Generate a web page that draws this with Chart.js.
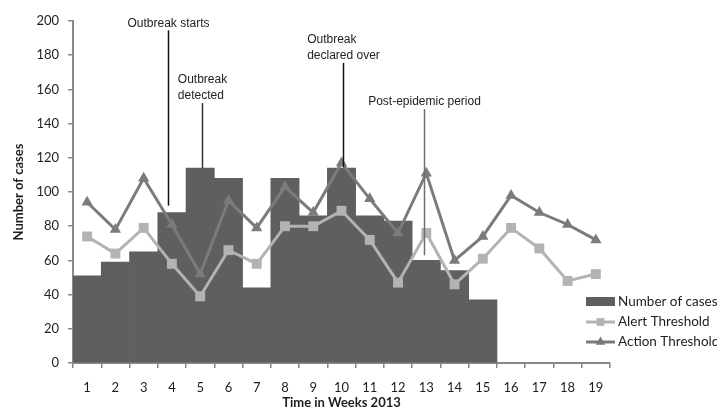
<!DOCTYPE html>
<html>
<head>
<meta charset="utf-8">
<title>Weekly cases and epidemic thresholds, 2013</title>
<script src="https://cdn.jsdelivr.net/npm/chart.js@4/dist/chart.umd.min.js"></script>
<style>
  html, body { margin: 0; padding: 0; background: #ffffff; }
  canvas { display: block; }
</style>
</head>
<body>
<canvas id="chart" width="717" height="407"></canvas>
<script>
// Week numbers on the x axis
const weeks = ['1','2','3','4','5','6','7','8','9','10','11','12','13','14','15','16','17','18','19'];

// Reported cases per week (no reports yet from week 16 on)
const cases = [51, 59, 65, 88, 114, 108, 44, 108, 86, 114, 86, 83, 60, 54, 37, null, null, null, null];

// Threshold series
const alertThreshold  = [74, 64, 79, 58, 39, 66, 58, 80, 80, 89, 72, 47, 76, 46, 61, 79, 67, 48, 52];
const actionThreshold = [94, 78, 108, 81, 52, 95, 79, 103, 88, 117, 96, 76, 111, 60, 74, 98, 88, 81, 72];

// Event call-outs: label lines, week position, and the value span of the pointer line
const eventLabels = [['Outbreak starts'], ['Outbreak', 'detected'], ['Outbreak', 'declared over'], ['Post-epidemic period']];
const eventWeeks  = [3.86, 5.06, 10.06, 12.92];
const eventTop    = [194.5, 152, 175.5, 148.5];
const eventBottom = [92, 114, 114.5, 63];

const COLORS = {
  bar: '#5f5f5f',
  alert: '#b3b3b3',
  action: '#7b7b7b',
  axis: '#888888',
  text: '#1e1e1e',
  eventLines: ['#111111', '#333333', '#111111', '#6e6e6e']
};
const TICK_FONT = { family: 'Lato, "Open Sans", sans-serif', size: 13 };
const TITLE_FONT = { family: 'Lato, "Open Sans", sans-serif', size: 13, weight: 'bold', lineHeight: 1 };

// Pointer lines with their captions
const eventMarkers = {
  id: 'eventMarkers',
  afterDatasetsDraw(chart) {
    const { ctx, scales: { x, y } } = chart;
    ctx.save();
    ctx.font = '12px "Liberation Sans", Arial, sans-serif';
    ctx.textBaseline = 'middle';
    ctx.textAlign = 'left';
    eventWeeks.forEach((w, i) => {
      const px = Math.round(x.getPixelForValue(w - 1)) + 0.5;
      const top = y.getPixelForValue(eventTop[i]);
      const bottom = y.getPixelForValue(eventBottom[i]);
      ctx.strokeStyle = COLORS.eventLines[i];
      ctx.lineWidth = 1.5;
      ctx.beginPath();
      ctx.moveTo(px, top);
      ctx.lineTo(px, bottom);
      ctx.stroke();

      const lines = eventLabels[i];
      const blockWidth = Math.max(...lines.map(t => ctx.measureText(t).width));
      const left = px - blockWidth / 2;
      ctx.fillStyle = '#222222';
      lines.forEach((t, k) => {
        ctx.fillText(t, left, top - 7 - (lines.length - 1 - k) * 16);
      });
    });
    ctx.restore();
  }
};

// Legend drawn beside the lower right of the plot
const sideLegend = {
  id: 'sideLegend',
  afterDraw(chart) {
    const { ctx } = chart;
    const x0 = 586, x1 = 615, textX = 618, y0 = 302, step = 20;
    ctx.save();
    ctx.font = '13.5px Lato, "Open Sans", sans-serif';
    ctx.textBaseline = 'middle';
    ctx.textAlign = 'left';
    chart.data.datasets.forEach((ds, i) => {
      const yy = y0 + i * step;
      if (ds.type === 'bar') {
        ctx.fillStyle = ds.backgroundColor;
        ctx.fillRect(x0, yy - 5, x1 - x0, 9);
      } else {
        ctx.strokeStyle = ds.borderColor;
        ctx.lineWidth = 3;
        ctx.beginPath();
        ctx.moveTo(x0, yy);
        ctx.lineTo(x1, yy);
        ctx.stroke();
        ctx.fillStyle = ds.pointBackgroundColor;
        ctx.strokeStyle = ds.pointBackgroundColor;
        Chart.helpers.drawPoint(ctx, {
          pointStyle: ds.pointStyle,
          radius: 5.5,
          rotation: 0,
          borderWidth: 0
        }, (x0 + x1) / 2, yy);
      }
      ctx.fillStyle = COLORS.text;
      ctx.fillText(ds.label, textX, yy);
    });
    ctx.restore();
  }
};

new Chart(document.getElementById('chart'), {
  data: {
    labels: weeks,
    datasets: [
      {
        type: 'bar',
        label: 'Number of cases',
        data: cases,
        backgroundColor: COLORS.bar,
        borderWidth: 0,
        barPercentage: 1,
        categoryPercentage: 1,
        order: 3
      },
      {
        type: 'line',
        label: 'Alert Threshold',
        data: alertThreshold,
        borderColor: COLORS.alert,
        backgroundColor: COLORS.alert,
        pointBackgroundColor: COLORS.alert,
        pointBorderColor: COLORS.alert,
        borderWidth: 3,
        pointStyle: 'rect',
        pointRadius: 7,
        pointBorderWidth: 0,
        tension: 0,
        order: 2
      },
      {
        type: 'line',
        label: 'Action Threshold',
        data: actionThreshold,
        borderColor: COLORS.action,
        backgroundColor: COLORS.action,
        pointBackgroundColor: COLORS.action,
        pointBorderColor: COLORS.action,
        borderWidth: 3,
        pointStyle: 'triangle',
        pointRadius: 6.5,
        pointBorderWidth: 0,
        tension: 0,
        order: 1
      }
    ]
  },
  options: {
    responsive: false,
    animation: false,
    devicePixelRatio: 1,
    layout: { padding: { top: 21, right: 107, bottom: 0, left: 0 } },
    plugins: {
      legend: { display: false },
      tooltip: { enabled: false }
    },
    scales: {
      x: {
        offset: true,
        grid: { drawOnChartArea: false, drawTicks: true, tickLength: 5, color: COLORS.axis, lineWidth: 1.5, offset: true },
        border: { display: true, color: COLORS.axis, width: 2 },
        ticks: { color: COLORS.text, font: TICK_FONT, padding: 12, maxRotation: 0, autoSkip: false },
        title: { display: true, text: 'Time in Weeks 2013', color: COLORS.text, font: TITLE_FONT, padding: { top: 0, bottom: -2 } },
        afterFit(scale) { scale.height = 44; }
      },
      y: {
        min: 0,
        max: 200,
        grid: { drawOnChartArea: false, drawTicks: true, tickLength: 5, color: COLORS.axis, lineWidth: 1.5 },
        border: { display: true, color: COLORS.axis, width: 2 },
        ticks: { stepSize: 20, color: COLORS.text, font: TICK_FONT, padding: 9 },
        title: { display: true, text: 'Number of cases', color: COLORS.text, font: TITLE_FONT, padding: { top: 12, bottom: 0 } },
        afterFit(scale) { scale.width = 73; }
      }
    }
  },
  plugins: [eventMarkers, sideLegend]
});
</script>
</body>
</html>
